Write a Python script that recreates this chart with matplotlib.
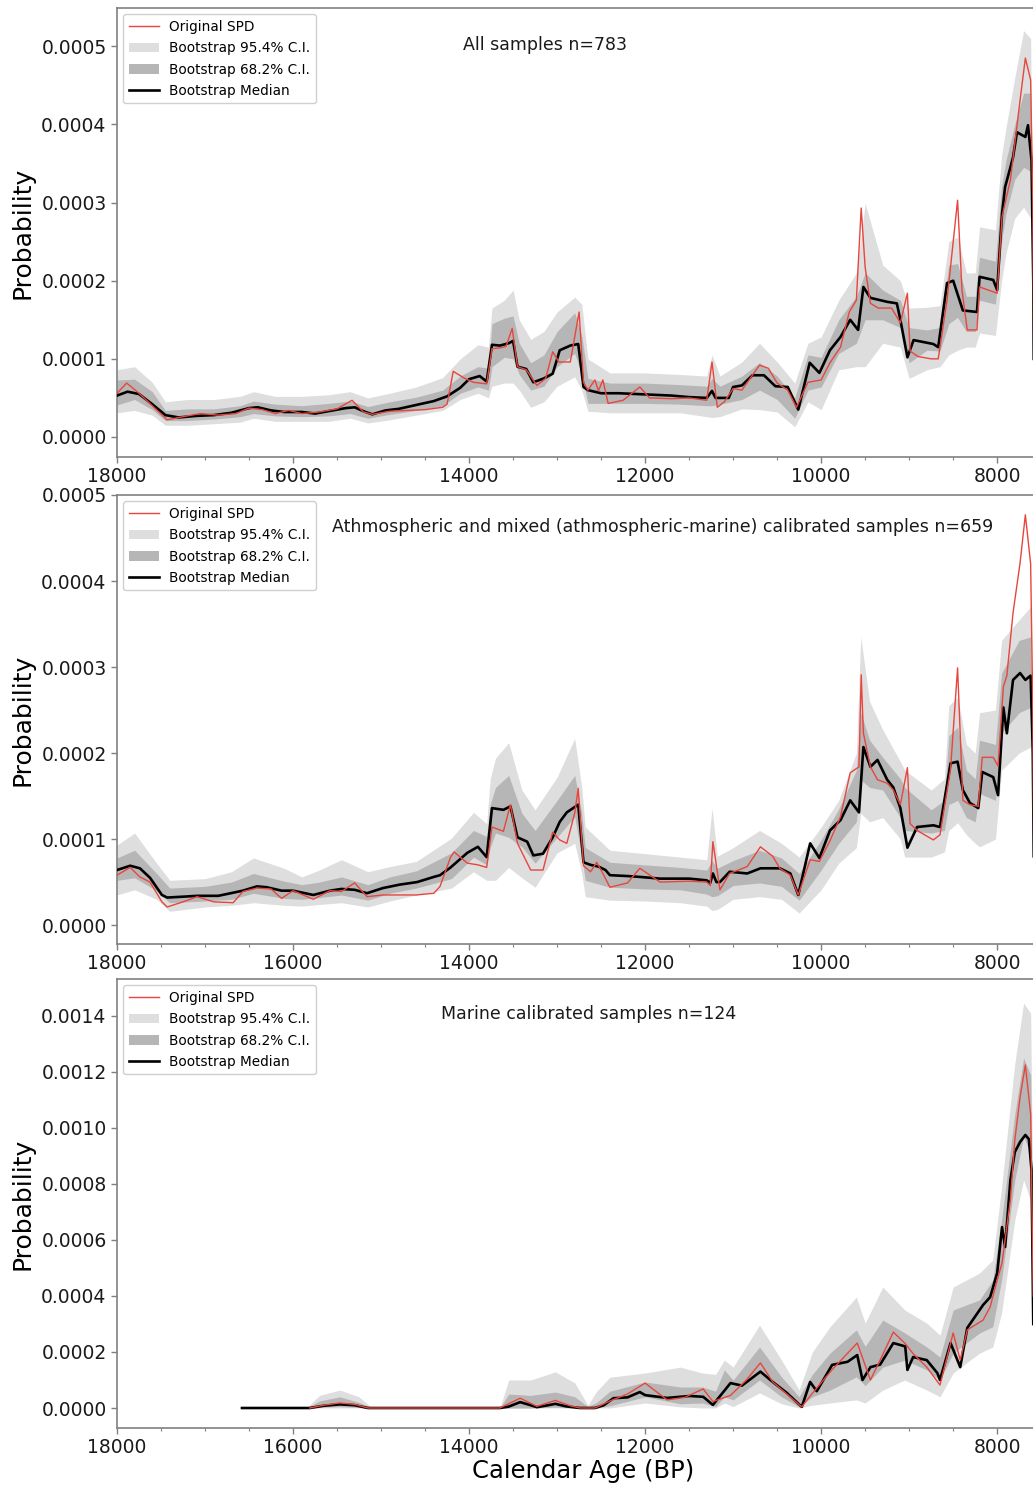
import numpy as np
import matplotlib.pyplot as plt
from matplotlib.patches import Patch
from matplotlib.lines import Line2D
from matplotlib.ticker import MultipleLocator, FormatStrFormatter

# Todos los valores de probabilidad estan en unidades de 1e-5
ESCALA = 1e-5

# ---------------- Panel 1: todas las muestras ----------------
spd_todas = [
    (18000, 5.6), (17890, 6.9), (17750, 5.6), (17600, 4.0), (17430, 2.2), (17250, 2.6),
    (17050, 3.0), (16850, 2.8), (16650, 3.0), (16500, 3.7), (16350, 3.5), (16200, 3.0),
    (16050, 3.4), (15900, 3.0), (15700, 3.2), (15500, 3.6), (15330, 4.7), (15200, 3.2),
    (15100, 2.9), (14900, 3.3), (14700, 3.4), (14500, 3.5), (14300, 3.8), (14250, 4.2),
    (14180, 8.4), (14050, 7.5), (13950, 7.0), (13800, 6.8), (13740, 11.3), (13650, 11.4),
    (13580, 11.6), (13510, 13.9), (13450, 9.0), (13350, 8.6), (13230, 6.6), (13130, 7.5),
    (13050, 10.9), (12980, 9.6), (12850, 9.6), (12750, 16.0), (12700, 7.0), (12650, 6.0),
    (12570, 7.3), (12530, 5.9), (12480, 7.3), (12420, 4.3), (12250, 4.7), (12060, 6.4),
    (11950, 5.0), (11700, 4.9), (11500, 5.0), (11300, 4.7), (11240, 9.6), (11180, 3.8),
    (11100, 4.5), (11000, 6.2), (10900, 6.0), (10700, 9.2), (10600, 8.8), (10500, 6.9),
    (10380, 6.0), (10280, 3.8), (10150, 7.0), (10000, 7.3), (9900, 9.5), (9780, 11.5),
    (9680, 16.0), (9600, 17.5), (9545, 29.3), (9500, 21.7), (9440, 17.1), (9350, 16.5),
    (9200, 16.5), (9100, 14.6), (9020, 18.4), (8990, 11.0), (8900, 10.3), (8750, 10.0),
    (8670, 10.0), (8570, 17.5), (8450, 30.3), (8400, 18.8), (8340, 13.7), (8230, 13.7),
    (8200, 19.2), (8000, 18.4), (7945, 28.2), (7850, 32.9), (7740, 43.1), (7680, 48.5),
    (7620, 45.7), (7595, 30.0), (7585, 10.0),
]
mediana_todas = [
    (18000, 5.3), (17880, 5.8), (17750, 5.5), (17600, 4.2), (17450, 2.8), (17300, 2.5),
    (17100, 2.7), (16900, 2.8), (16700, 3.1), (16500, 3.7), (16400, 3.8), (16250, 3.4),
    (16100, 3.2), (15900, 3.2), (15750, 3.0), (15600, 3.3), (15400, 3.7), (15300, 3.8),
    (15200, 3.3), (15100, 2.9), (14950, 3.4), (14800, 3.6), (14600, 4.1), (14400, 4.6),
    (14250, 5.2), (14100, 6.3), (14000, 7.4), (13880, 7.8), (13800, 7.1), (13740, 11.8),
    (13650, 11.7), (13550, 12.0), (13500, 12.3), (13450, 9.0), (13350, 8.7), (13270, 7.0),
    (13150, 7.5), (13050, 8.1), (12970, 11.1), (12850, 11.7), (12760, 11.9), (12700, 6.4),
    (12650, 6.0), (12500, 5.6), (12300, 5.6), (12100, 5.5), (11900, 5.4), (11700, 5.3),
    (11500, 5.1), (11300, 5.0), (11240, 5.9), (11200, 5.0), (11050, 5.0), (11000, 6.4),
    (10900, 6.6), (10780, 7.9), (10650, 7.9), (10520, 6.5), (10380, 6.4), (10260, 3.5),
    (10130, 9.5), (10020, 8.2), (9900, 11.1), (9780, 12.8), (9670, 15.0), (9580, 13.7),
    (9520, 19.2), (9440, 17.8), (9250, 17.3), (9140, 17.1), (9100, 15.0), (9020, 10.2),
    (8950, 12.4), (8725, 11.9), (8670, 11.5), (8570, 19.7), (8500, 20.0), (8390, 16.2),
    (8230, 16.0), (8200, 20.5), (8045, 20.1), (8000, 18.8), (7945, 28.6), (7910, 32.0),
    (7850, 34.5), (7820, 35.8), (7775, 39.0), (7680, 38.4), (7650, 39.9), (7610, 35.4),
    (7590, 20.0), (7585, 10.0),
]
# (año, inf 95.4, inf 68.2, sup 68.2, sup 95.4)
bandas_todas = [
    (18000, 3.1, 4.1, 7.3, 8.6), (17800, 3.4, 4.8, 7.4, 9.0), (17600, 2.8, 3.5, 5.8, 7.0),
    (17450, 1.5, 2.1, 3.4, 4.5), (17200, 1.5, 2.1, 3.6, 4.8), (16900, 1.7, 2.3, 3.6, 4.8),
    (16600, 1.9, 2.6, 4.0, 5.2), (16450, 2.4, 3.0, 4.6, 5.8), (16200, 2.0, 2.7, 4.2, 5.2),
    (15900, 2.0, 2.6, 4.0, 5.2), (15600, 2.0, 2.7, 4.3, 5.4), (15350, 2.4, 3.0, 4.6, 5.8),
    (15150, 1.8, 2.4, 3.9, 5.0), (14900, 2.2, 2.9, 4.5, 5.6), (14600, 2.8, 3.4, 5.1, 6.4),
    (14300, 3.4, 4.0, 6.0, 7.6), (14100, 4.8, 5.6, 7.8, 10.0), (13900, 5.6, 6.4, 9.0, 11.8),
    (13780, 5.0, 6.0, 8.8, 11.5), (13740, 6.5, 9.0, 14.5, 16.5), (13600, 6.9, 10.2, 15.2, 17.5),
    (13500, 6.9, 10.0, 15.5, 18.8), (13430, 6.0, 8.0, 12.0, 15.0), (13300, 3.8, 6.0, 9.5, 12.5),
    (13150, 4.5, 6.5, 10.5, 13.5), (13000, 6.5, 9.0, 13.5, 16.0), (12800, 7.7, 10.7, 15.9, 17.9),
    (12720, 6.0, 8.0, 13.0, 17.0), (12650, 3.3, 4.3, 7.5, 10.0), (12400, 3.1, 4.3, 6.9, 8.2),
    (12000, 3.1, 4.3, 6.9, 8.2), (11600, 3.1, 4.2, 6.7, 8.0), (11300, 2.6, 4.0, 6.5, 7.8),
    (11240, 2.5, 4.0, 7.5, 10.5), (11150, 2.6, 4.2, 6.5, 7.8), (10900, 3.6, 4.8, 7.8, 9.6),
    (10700, 3.5, 6.0, 9.5, 12.0), (10500, 3.2, 4.8, 7.8, 9.6), (10300, 1.3, 2.4, 5.0, 6.9),
    (10150, 4.5, 6.0, 10.5, 12.0), (10000, 3.5, 6.4, 10.2, 12.8), (9800, 8.6, 10.7, 15.0, 17.5),
    (9600, 9.0, 12.0, 18.0, 21.0), (9500, 9.0, 15.0, 21.0, 29.9), (9300, 12.0, 15.0, 18.8, 22.0),
    (9100, 11.5, 14.0, 17.5, 20.0), (9000, 7.5, 9.5, 14.0, 16.5), (8800, 8.6, 11.1, 13.7, 16.6),
    (8650, 9.0, 11.0, 14.0, 16.8), (8550, 10.5, 14.5, 22.0, 25.0), (8450, 11.1, 15.3, 22.2, 25.6),
    (8350, 11.5, 13.5, 18.0, 21.0), (8250, 11.5, 13.5, 18.0, 21.0), (8200, 13.3, 17.5, 23.0, 26.9),
    (8020, 13.0, 17.0, 22.5, 26.5), (7950, 20.0, 25.0, 32.0, 36.0), (7900, 23.5, 28.6, 35.4, 39.6),
    (7800, 28.0, 33.0, 40.0, 46.0), (7700, 29.4, 34.5, 44.0, 52.0), (7620, 28.0, 34.0, 44.0, 51.0),
    (7590, 5.0, 8.0, 12.0, 15.0),
]

# ---------------- Panel 2: atmosfericas y mixtas ----------------
spd_atm = [
    (18000, 5.8), (17850, 6.7), (17740, 5.6), (17625, 5.0), (17490, 2.7), (17430, 2.1),
    (17250, 2.7), (17090, 3.3), (16900, 2.7), (16680, 2.6), (16570, 3.9), (16410, 4.3),
    (16250, 4.2), (16130, 3.1), (16000, 4.0), (15770, 3.0), (15580, 4.0), (15450, 3.9),
    (15300, 4.9), (15160, 3.3), (14980, 3.5), (14600, 3.5), (14400, 3.7), (14330, 4.5),
    (14210, 7.9), (14170, 8.5), (14020, 7.2), (13900, 7.0), (13800, 6.7), (13740, 11.4),
    (13610, 10.9), (13530, 14.0), (13450, 9.5), (13300, 6.4), (13160, 6.4), (13050, 10.8),
    (12970, 9.9), (12890, 9.5), (12800, 13.0), (12760, 15.9), (12700, 6.9), (12620, 6.2),
    (12550, 7.3), (12480, 6.0), (12400, 4.4), (12200, 4.9), (12060, 6.6), (11830, 5.0),
    (11500, 5.1), (11300, 5.0), (11260, 4.6), (11230, 9.7), (11150, 4.1), (11040, 6.0),
    (10840, 6.8), (10690, 9.1), (10550, 8.0), (10470, 6.6), (10350, 5.8), (10260, 3.5),
    (10125, 7.6), (10020, 7.4), (9900, 9.8), (9780, 12.6), (9670, 17.7), (9570, 18.4),
    (9545, 29.1), (9520, 22.3), (9440, 18.4), (9360, 16.9), (9250, 16.5), (9180, 15.7),
    (9100, 14.0), (9020, 18.3), (8990, 11.8), (8910, 11.0), (8725, 9.9), (8650, 10.5),
    (8530, 18.1), (8450, 29.9), (8390, 14.5), (8310, 14.0), (8215, 13.8), (8170, 19.5),
    (8045, 19.5), (7990, 18.5), (7930, 27.7), (7890, 29.0), (7820, 36.3), (7740, 42.1),
    (7680, 47.7), (7620, 42.0), (7595, 25.0), (7585, 8.0),
]
mediana_atm = [
    (18000, 6.4), (17850, 6.9), (17740, 6.6), (17625, 5.5), (17490, 3.5), (17430, 3.2),
    (17250, 3.3), (17090, 3.4), (16850, 3.4), (16570, 4.0), (16410, 4.5), (16300, 4.4),
    (16130, 4.0), (16000, 4.0), (15770, 3.5), (15580, 4.0), (15450, 4.2), (15300, 4.1),
    (15160, 3.7), (14980, 4.3), (14790, 4.7), (14590, 5.0), (14400, 5.6), (14330, 5.8),
    (14210, 6.7), (14020, 8.4), (13900, 9.1), (13800, 7.9), (13740, 13.6), (13610, 13.4),
    (13530, 13.8), (13450, 10.2), (13340, 9.7), (13270, 8.1), (13160, 8.3), (13050, 10.2),
    (12970, 12.0), (12890, 13.1), (12760, 14.0), (12700, 7.3), (12620, 7.0), (12530, 6.8),
    (12450, 6.4), (12400, 5.8), (12200, 5.7), (12060, 5.6), (11830, 5.4), (11500, 5.4),
    (11300, 5.2), (11260, 4.9), (11230, 6.0), (11190, 5.0), (11150, 5.0), (11040, 6.2),
    (10840, 6.0), (10690, 6.6), (10470, 6.6), (10350, 6.0), (10260, 3.5), (10125, 9.5),
    (10020, 7.8), (9900, 11.0), (9780, 12.2), (9670, 14.5), (9570, 13.1), (9520, 20.7),
    (9440, 18.4), (9360, 19.2), (9250, 16.9), (9180, 16.0), (9100, 13.6), (9020, 9.0),
    (8910, 11.4), (8725, 11.6), (8650, 11.4), (8530, 18.8), (8450, 19.0), (8390, 15.7),
    (8310, 14.2), (8215, 13.6), (8170, 17.8), (8045, 17.2), (7990, 15.1), (7930, 25.3),
    (7890, 22.3), (7820, 28.5), (7740, 29.3), (7680, 28.5), (7620, 29.0), (7595, 20.0),
    (7585, 8.0),
]
bandas_atm = [
    (18000, 3.5, 5.2, 7.8, 9.3), (17800, 4.1, 5.5, 8.7, 10.7), (17550, 3.0, 4.0, 6.0, 7.2),
    (17400, 1.6, 2.6, 4.3, 5.2), (17000, 2.1, 2.8, 4.5, 5.4), (16700, 2.3, 3.0, 5.0, 6.2),
    (16450, 2.6, 3.7, 6.0, 7.8), (16100, 2.3, 3.1, 5.1, 6.6), (15900, 2.2, 3.0, 4.7, 5.6),
    (15700, 2.4, 3.2, 5.0, 6.4), (15450, 2.6, 3.5, 5.6, 7.6), (15150, 2.1, 2.9, 4.7, 6.2),
    (14900, 2.8, 3.7, 5.6, 6.8), (14600, 3.5, 4.3, 6.3, 7.4), (14200, 4.3, 5.4, 8.4, 10.1),
    (13950, 6.2, 7.9, 11.0, 13.1), (13800, 5.2, 7.0, 10.3, 11.8), (13760, 5.2, 9.0, 14.0, 17.0),
    (13700, 5.2, 10.7, 16.0, 19.4), (13550, 6.7, 10.2, 17.4, 21.2), (13400, 5.5, 9.1, 13.0, 15.7),
    (13250, 4.4, 7.2, 11.0, 13.4), (13000, 8.4, 10.2, 14.5, 17.2), (12800, 9.5, 12.6, 17.4, 21.7),
    (12720, 6.0, 8.0, 13.0, 16.0), (12680, 3.3, 5.2, 9.0, 11.4), (12400, 2.9, 4.4, 7.3, 8.7),
    (12000, 2.8, 4.2, 7.0, 8.3), (11600, 2.6, 4.1, 6.7, 7.9), (11300, 2.2, 3.6, 6.4, 7.6),
    (11240, 1.7, 3.3, 7.5, 13.6), (11180, 1.8, 3.4, 6.6, 8.0), (11000, 3.0, 4.6, 7.5, 9.0),
    (10700, 3.3, 4.9, 8.7, 11.0), (10450, 3.0, 4.5, 7.8, 9.5), (10250, 1.4, 2.9, 6.0, 7.9),
    (10000, 4.1, 6.4, 9.9, 11.4), (9800, 7.2, 9.5, 13.5, 14.5), (9600, 9.0, 12.0, 18.0, 20.0),
    (9550, 13.0, 16.9, 24.7, 33.5), (9450, 12.0, 16.0, 21.5, 26.0), (9300, 12.5, 15.7, 19.5, 22.7),
    (9100, 10.0, 12.5, 17.0, 19.0), (9050, 7.9, 11.0, 16.0, 18.0), (8750, 7.9, 10.7, 13.4, 15.7),
    (8600, 8.5, 11.0, 14.5, 17.0), (8550, 11.0, 14.0, 22.0, 25.5), (8450, 11.9, 14.5, 23.0, 26.5),
    (8350, 10.5, 12.5, 18.0, 21.0), (8250, 9.5, 12.0, 17.0, 20.0), (8200, 9.1, 15.3, 21.5, 24.7),
    (8020, 10.0, 14.5, 21.0, 25.0), (7950, 18.0, 22.3, 29.3, 33.1), (7750, 20.0, 24.7, 33.1, 35.5),
    (7620, 20.7, 25.3, 33.5, 37.0), (7590, 5.0, 7.0, 12.0, 16.0),
]

# ---------------- Panel 3: muestras marinas ----------------
spd_mar = [
    (15810, 0.0), (15650, 1.0), (15470, 1.8), (15300, 1.3), (15150, 0.0), (13650, 0.0),
    (13420, 3.5), (13230, 0.6), (13020, 2.7), (12850, 0.8), (12740, 0.0), (12570, 0.0),
    (12400, 2.5), (12200, 5.0), (12000, 8.9), (11750, 2.9), (11550, 3.8), (11340, 6.8),
    (11230, 2.3), (11030, 4.5), (10850, 10.0), (10690, 16.1), (10550, 9.3), (10390, 5.0),
    (10220, 0.4), (10125, 4.3), (9875, 13.7), (9590, 23.2), (9440, 10.0), (9330, 17.1),
    (9180, 27.1), (9045, 23.0), (8955, 19.4), (8800, 14.6), (8650, 8.2), (8500, 26.8),
    (8420, 17.1), (8340, 27.9), (8160, 31.4), (8080, 36.1), (8000, 45.7), (7945, 51.8),
    (7850, 74.3), (7800, 95.7), (7740, 111.0), (7680, 122.5), (7620, 105.0), (7590, 40.0),
]
mediana_mar = [
    (16580, 0.0), (15810, 0.0), (15650, 0.8), (15470, 1.3), (15300, 1.0), (15150, 0.0),
    (13650, 0.0), (13550, 0.5), (13420, 2.1), (13300, 1.0), (13230, 0.3), (13100, 1.0),
    (13020, 1.5), (12900, 0.6), (12740, 0.0), (12570, 0.0), (12470, 1.0), (12360, 3.5),
    (12200, 3.8), (12060, 5.7), (12000, 4.6), (11750, 3.6), (11490, 4.3), (11340, 4.0),
    (11230, 1.1), (11030, 8.9), (10900, 8.0), (10690, 13.0), (10550, 9.3), (10390, 5.4),
    (10220, 0.4), (10125, 9.3), (10050, 6.0), (9875, 15.4), (9700, 16.5), (9590, 18.9),
    (9530, 10.0), (9440, 14.6), (9330, 15.5), (9180, 23.2), (9045, 22.0), (9020, 13.6),
    (8955, 18.2), (8800, 17.1), (8680, 12.5), (8650, 10.0), (8530, 23.2), (8420, 14.6),
    (8340, 28.6), (8160, 36.8), (8080, 39.6), (8000, 48.2), (7945, 64.6), (7910, 57.5),
    (7850, 81.4), (7800, 91.4), (7740, 95.0), (7680, 97.5), (7640, 96.0), (7610, 85.0),
    (7590, 30.0),
]
bandas_mar = [
    (15850, 0.0, 0.0, 0.0, 0.0), (15700, 0.0, 0.3, 2.5, 4.5), (15470, 0.0, 0.5, 4.0, 6.4),
    (15250, 0.0, 0.2, 2.0, 4.0), (15100, 0.0, 0.0, 0.0, 0.0), (13650, 0.0, 0.0, 0.0, 0.0),
    (13550, 0.0, 0.0, 5.0, 10.0), (13300, 0.0, 0.0, 4.5, 10.0), (13020, 0.0, 0.3, 5.7, 12.9),
    (12800, 0.0, 0.0, 4.0, 9.0), (12650, 0.0, 0.0, 0.5, 1.0), (12550, 0.0, 0.0, 2.0, 6.0),
    (12400, 0.0, 0.8, 6.0, 11.0), (12000, 1.8, 4.0, 9.3, 12.5), (11600, 0.4, 1.5, 7.5, 14.6),
    (11350, 0.0, 1.8, 7.5, 12.5), (11200, 0.0, 0.5, 6.0, 12.0), (11100, 1.8, 4.0, 13.6, 17.1),
    (11000, 0.5, 2.9, 10.0, 14.6), (10700, 5.4, 10.0, 21.8, 29.6), (10450, 1.5, 4.0, 11.1, 17.1),
    (10250, 0.0, 0.4, 4.0, 6.4), (10100, 1.0, 4.0, 12.0, 20.0), (9900, 1.8, 6.4, 19.6, 29.0),
    (9600, 2.9, 11.1, 27.9, 39.6), (9500, 1.8, 8.0, 22.0, 30.3), (9300, 6.4, 14.6, 31.4, 43.2),
    (9050, 10.0, 17.1, 26.8, 35.0), (8800, 6.4, 13.6, 21.8, 30.3), (8650, 4.0, 10.0, 18.2, 26.0),
    (8500, 12.5, 19.6, 35.0, 43.2), (8200, 19.6, 26.8, 38.6, 48.2), (8050, 21.8, 29.0, 45.7, 52.9),
    (7950, 33.9, 45.7, 67.1, 78.9), (7800, 67.1, 81.4, 105.0, 123.0), (7700, 81.4, 96.8, 125.0, 144.6),
    (7620, 74.0, 91.0, 119.0, 141.0), (7590, 15.0, 25.0, 40.0, 60.0),
]

titulos = [
    "All samples n=783",
    "Athmospheric and mixed (athmospheric-marine) calibrated samples n=659",
    "Marine calibrated samples n=124",
]

# colores
ROJO = "#e8453c"
GRIS_95 = "#dedede"
GRIS_68 = "#b6b6b6"
GRIS_EJE = "#808080"

W, H = 1033, 1490
fig = plt.figure(figsize=(W / 100, H / 100), dpi=100)

# posiciones en pixeles: izquierda, arriba, abajo (el eje se sale por la derecha)
ancho_px = 933
cajas = [(117, 8, 457), (117, 495, 944), (117, 979, 1428)]
limites_y = [(-0.0000256, 0.000549), (-0.000022, 0.0005), (-0.0000714, 0.001532)]
pasos_y = [0.0001, 0.0001, 0.0002]
texto_pos = [(0.459, 0.918), (0.585, 0.929), (0.506, 0.922)]

datos = [
    (spd_todas, mediana_todas, bandas_todas),
    (spd_atm, mediana_atm, bandas_atm),
    (spd_mar, mediana_mar, bandas_mar),
]

for i, (spd, med, bandas) in enumerate(datos):
    izq, arriba, abajo = cajas[i]
    ax = fig.add_axes([izq / W, 1 - abajo / H, ancho_px / W, (abajo - arriba) / H])

    b = np.array(bandas)
    anos_b = b[:, 0]
    ax.fill_between(anos_b, b[:, 1] * ESCALA, b[:, 4] * ESCALA, color=GRIS_95, lw=0, zorder=1)
    ax.fill_between(anos_b, b[:, 2] * ESCALA, b[:, 3] * ESCALA, color=GRIS_68, lw=0, zorder=2)

    m = np.array(med)
    ax.plot(m[:, 0], m[:, 1] * ESCALA, color="black", lw=1.9, zorder=3)
    s = np.array(spd)
    ax.plot(s[:, 0], s[:, 1] * ESCALA, color=ROJO, lw=1.0, zorder=4)

    ax.set_xlim(18000, 7400)
    ax.set_ylim(*limites_y[i])
    ax.xaxis.set_major_locator(MultipleLocator(2000))
    ax.xaxis.set_minor_locator(MultipleLocator(500))
    ax.yaxis.set_major_locator(MultipleLocator(pasos_y[i]))
    ax.yaxis.set_major_formatter(FormatStrFormatter("%.4f"))

    for lado in ax.spines.values():
        lado.set_color(GRIS_EJE)
        lado.set_linewidth(1.2)
    ax.tick_params(axis="both", which="major", labelsize=13.5, color=GRIS_EJE,
                   length=4, width=1, labelcolor="#1a1a1a")
    ax.tick_params(axis="both", which="minor", color=GRIS_EJE, length=2.5, width=0.8)

    ax.set_ylabel("Probability", fontsize=18, labelpad=5)

    ax.text(texto_pos[i][0], texto_pos[i][1], titulos[i], transform=ax.transAxes,
            ha="center", va="center", fontsize=12.5, color="#1a1a1a")

    manejadores = [
        Line2D([], [], color=ROJO, lw=1.0, label="Original SPD"),
        Patch(facecolor=GRIS_95, edgecolor="none", label="Bootstrap 95.4% C.I."),
        Patch(facecolor=GRIS_68, edgecolor="none", label="Bootstrap 68.2% C.I."),
        Line2D([], [], color="black", lw=1.9, label="Bootstrap Median"),
    ]
    ax.legend(handles=manejadores, loc="upper left", fontsize=9.8, frameon=True,
              borderaxespad=0.45, handlelength=2.2, labelspacing=0.55,
              edgecolor="#d0d0d0", framealpha=1.0, fancybox=True)

    if i == 2:
        ax.set_xlabel("Calendar Age (BP)", fontsize=17.5, labelpad=1)

fig.savefig("out.png", dpi=100)
